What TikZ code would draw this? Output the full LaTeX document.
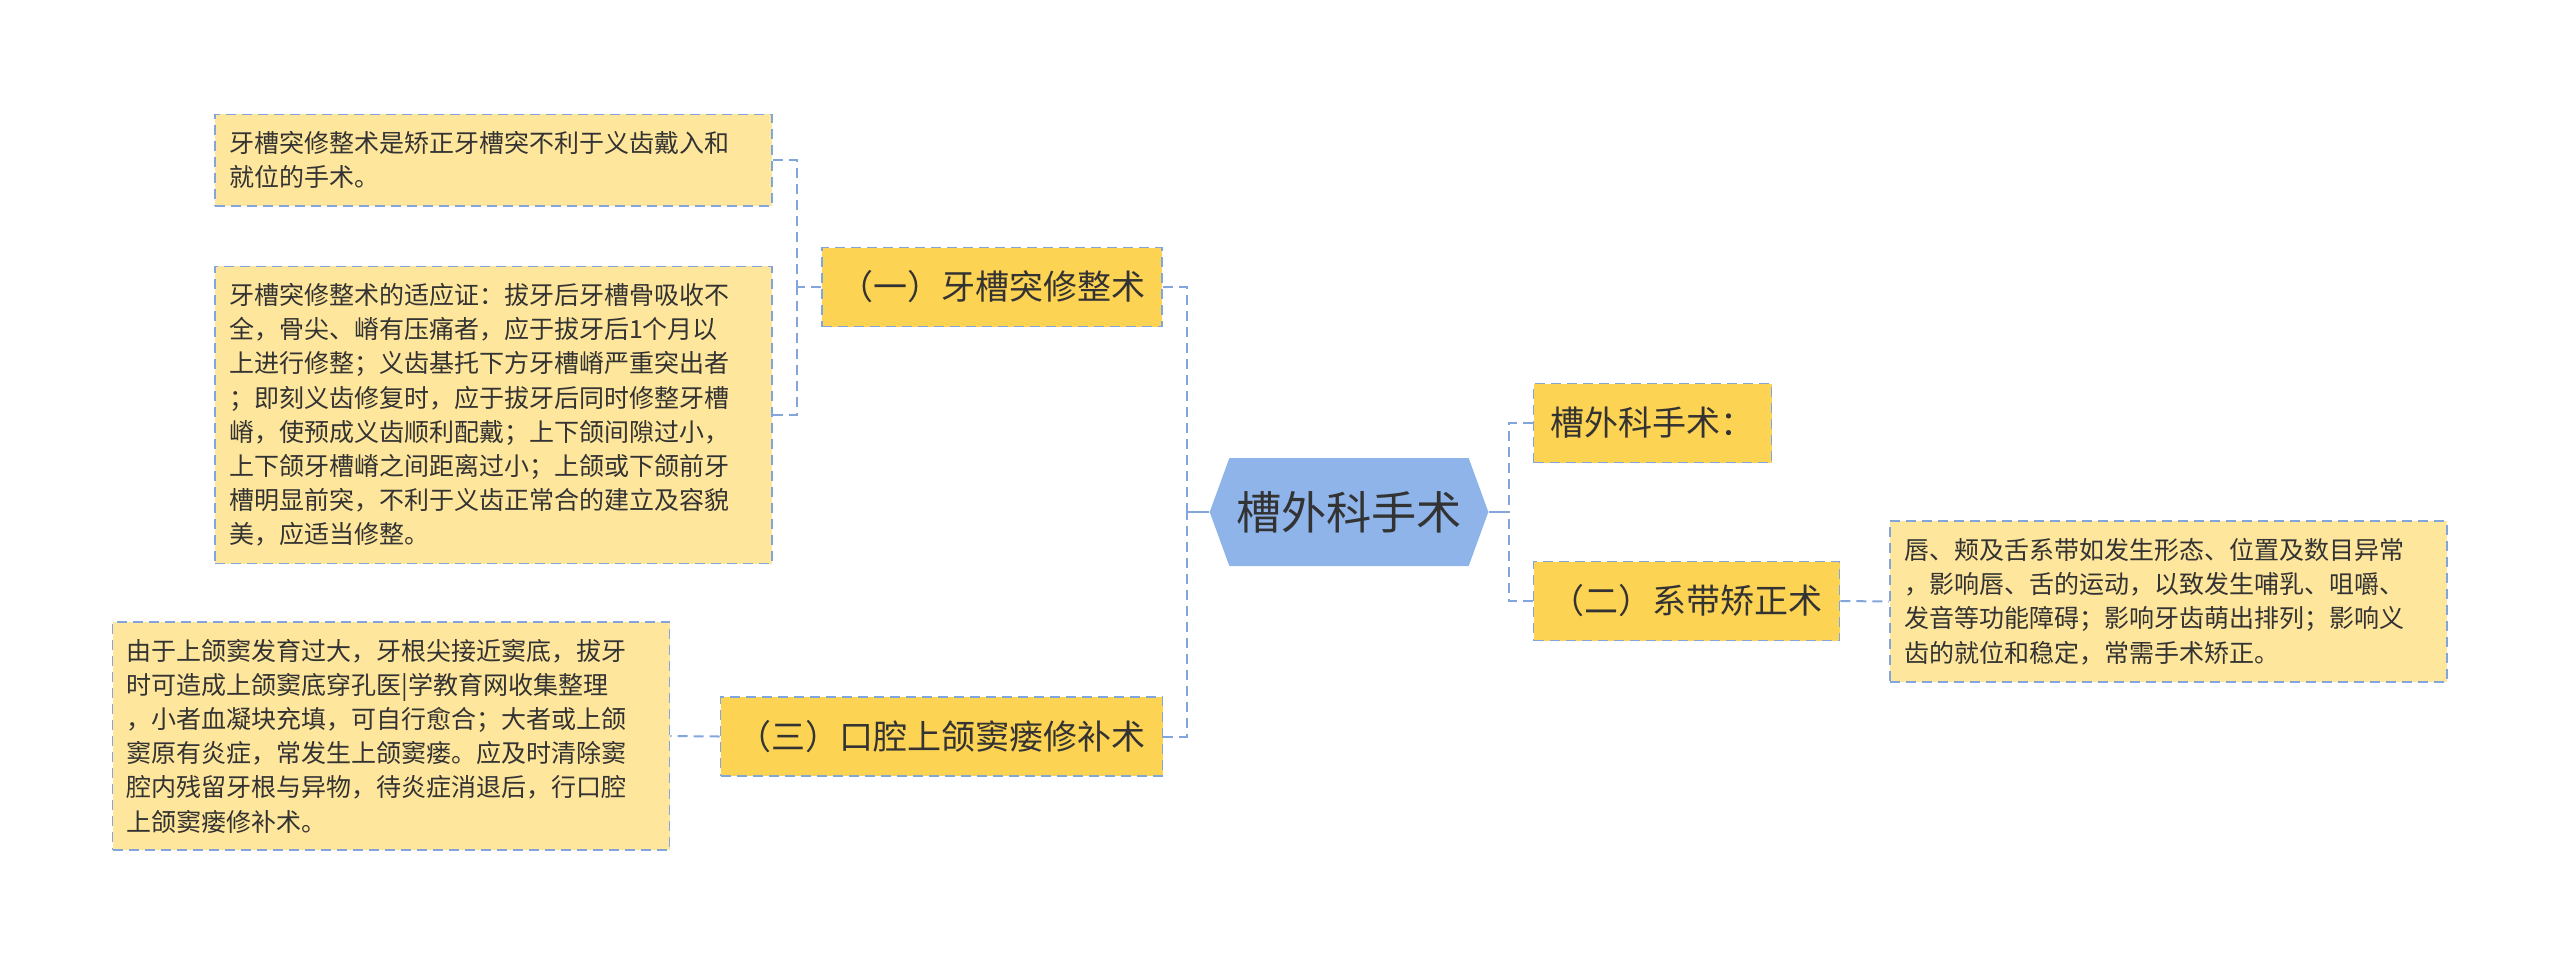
\documentclass[tikz,border=0pt]{standalone}
\usepackage{fontspec}
\setmainfont{Noto Sans CJK SC}
\usetikzlibrary{shapes,positioning}

\definecolor{rootblue}{HTML}{8EB4EA}
\definecolor{goldfill}{HTML}{FDD353}
\definecolor{leaffill}{HTML}{FEE69C}
\definecolor{linkblue}{HTML}{82A6DC}
\definecolor{textgray}{HTML}{333333}

\begin{document}
\begin{tikzpicture}[x=0.5pt,y=-0.5pt,
  link/.style={draw=linkblue,line width=1pt,dash pattern=on 5pt off 3pt},
  solidlink/.style={draw=linkblue,line width=1pt},
  topic/.style={fill=goldfill,draw=linkblue,line width=0.8pt,dash pattern=on 5pt off 3pt,
    minimum height=39.5pt,inner xsep=8.5pt,text=textgray,font=\fontsize{17}{20}\selectfont},
  leaf/.style={fill=leaffill,draw=linkblue,line width=0.8pt,dash pattern=on 5pt off 3pt,
    text width=264.5pt,align=left,inner xsep=7pt,inner ysep=8.5pt,text=textgray,
    font=\fontsize{12.5}{17.1}\selectfont}]
  \useasboundingbox (0,0) rectangle (2560,966);

  % central topic
  \node[signal,signal to=west and east,signal pointer angle=140,fill=rootblue,
    minimum width=137pt,minimum height=54pt,text=textgray,
    font=\fontsize{22.6}{26}\selectfont] (root) at (1349,512) {槽外科手术};

  % first level
  \node[topic] (align) at (992,287) {（一）牙槽突修整术};
  \node[topic] (fistula) at (941.5,736.5) {（三）口腔上颌窦瘘修补术};
  \node[topic] (title) at (1652.5,423) {槽外科手术：};
  \node[topic] (frenum) at (1686.5,601) {（二）系带矫正术};

  % leaves
  \node[leaf] (alignA) at (493.5,160) {牙槽突修整术是矫正牙槽突不利于义齿戴入和\\
    就位的手术。};
  \node[leaf] (alignB) at (493.5,415) {牙槽突修整术的适应证：拔牙后牙槽骨吸收不\\
    全，骨尖、嵴有压痛者，应于拔牙后1个月以\\
    上进行修整；义齿基托下方牙槽嵴严重突出者\\
    ；即刻义齿修复时，应于拔牙后同时修整牙槽\\
    嵴，使预成义齿顺利配戴；上下颌间隙过小，\\
    上下颌牙槽嵴之间距离过小；上颌或下颌前牙\\
    槽明显前突，不利于义齿正常合的建立及容貌\\
    美，应适当修整。};
  \node[leaf] (fistulaA) at (391,736) {由于上颌窦发育过大，牙根尖接近窦底，拔牙\\
    时可造成上颌窦底穿孔医|学教育网收集整理\\
    ，小者血凝块充填，可自行愈合；大者或上颌\\
    窦原有炎症，常发生上颌窦瘘。应及时清除窦\\
    腔内残留牙根与异物，待炎症消退后，行口腔\\
    上颌窦瘘修补术。};
  \node[leaf] (frenumA) at (2168.5,601.5) {唇、颊及舌系带如发生形态、位置及数目异常\\
    ，影响唇、舌的运动，以致发生哺乳、咀嚼、\\
    发音等功能障碍；影响牙齿萌出排列；影响义\\
    齿的就位和稳定，常需手术矫正。};

  % junctions
  \coordinate (jl) at (1187,512);
  \coordinate (jr) at (1509,512);
  \coordinate (ja) at (797,287);

  % connectors
  \draw[solidlink] (root.west) -- (jl);
  \draw[solidlink] (root.east) -- (jr);
  \draw[link] (align.east) -| (jl);
  \draw[link] (fistula.east) -| (jl);
  \draw[link] (title.west) -| (jr);
  \draw[link] (frenum.west) -| (jr);
  \draw[link] (align.west) -- (ja);
  \draw[link] (alignA.east) -| (ja);
  \draw[link] (alignB.east) -| (ja);
  \draw[link] (fistula.west) -- (fistulaA.east);
  \draw[link] (frenum.east) -- (frenumA.west);
\end{tikzpicture}
\end{document}
